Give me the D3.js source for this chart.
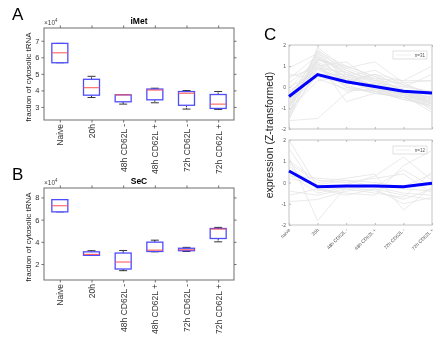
<!DOCTYPE html>
<html>
<head>
<meta charset="utf-8">
<script src="https://cdn.jsdelivr.net/npm/d3@7"></script>
<style>
  body { margin: 0; background: #fff; }
  svg { font-family: "Liberation Sans", Arial, sans-serif; will-change: transform; -webkit-font-smoothing: antialiased; }
</style>
</head>
<body>
<div class="container"></div>
<script>
// box plot categories
const cats = ["Naive", "20h", "48h CD62L -", "48h CD62L +", "72h CD62L -", "72h CD62L +"]
const catsC = ["naive", "20h", "48h CD62L -", "48h CD62L +", "72h CD62L -", "72h CD62L +"]

// iMet (x10^4)
const iMetLo  = [5.67, 3.57, 3.17, 3.25, 2.87, 2.85]
const iMetQ1  = [5.67, 3.71, 3.31, 3.43, 3.10, 2.91]
const iMetMed = [6.27, 4.16, 3.73, 4.02, 3.83, 3.17]
const iMetQ3  = [6.84, 4.67, 3.73, 4.08, 3.93, 3.75]
const iMetHi  = [6.84, 4.85, 3.73, 4.13, 3.99, 3.93]
const iMetTicks = [3, 4, 5, 6, 7]

// SeC (x10^4)
const secLo  = [6.70, 2.78, 1.40, 3.10, 3.13, 4.00]
const secQ1  = [6.70, 2.78, 1.55, 3.13, 3.20, 4.30]
const secMed = [7.25, 2.87, 2.18, 3.25, 3.28, 5.15]
const secQ3  = [7.80, 3.10, 2.99, 3.97, 3.42, 5.20]
const secHi  = [7.80, 3.20, 3.22, 4.15, 3.50, 5.30]
const secTicks = [2, 4, 6, 8]

// cluster profiles, Z-transformed
const topMean = [-0.45, 0.59, 0.25, 0.02, -0.2, -0.29]
const topLines = [
  [-1.6, 1.9, 0.8, 0.3, -0.3, -0.6],
  [-1.2, 1.7, 1.0, 0.5, -0.2, -0.5],
  [-0.9, 1.5, 0.6, 0.2, -0.4, -0.7],
  [-1.4, 1.3, 0.9, 1.2, 0.2, -0.4],
  [0.9, 1.6, 0.4, -0.1, -0.5, -0.9],
  [-0.5, 1.1, 0.5, 0.0, -0.3, -0.8],
  [-1.0, 1.4, 0.3, -0.2, -0.6, -0.8],
  [-0.3, 0.9, 0.7, 0.4, 0.3, 0.3],
  [-1.6, -1.5, -0.3, 0.2, 0.0, -0.2],
  [0.2, 1.2, -0.7, -0.3, -0.4, -0.6],
  [-0.8, 0.5, 0.2, 0.6, 0.3, 1.0],
  [-0.6, 1.0, 0.0, -0.2, -0.5, -1.0],
  [-0.2, 0.8, 0.4, 0.1, -0.3, -0.7],
  [-1.3, 1.8, 0.6, 0.0, -0.3, -0.5],
  [-0.4, 0.6, 0.1, -0.3, -0.5, -0.9],
  [0.4, 1.5, 0.2, 0.0, -0.2, -0.6],
  [-0.7, 1.0, 1.2, 0.3, -0.1, -0.4],
  [-1.1, 0.3, 0.5, 0.8, 0.1, -0.3],
  [-0.9, 1.3, 0.8, 0.2, -0.2, -1.1],
  [0.0, 0.7, -0.2, -0.1, -0.4, -0.8],
  [-0.5, 1.6, 0.9, 0.4, -0.2, -0.5],
  [-1.5, 0.9, 0.3, 0.6, 0.0, 0.6],
  [0.6, 0.4, -0.1, -0.2, -0.3, -0.7],
  [-0.8, 1.2, 0.5, 0.1, -0.4, -1.2],
  [-0.3, 1.1, 0.3, -0.1, -0.3, -0.6],
  [-1.2, 0.6, 0.6, 0.3, 0.2, 0.3],
  [-0.1, 1.4, 0.7, 0.0, -0.4, -0.8],
  [-0.7, 1.7, 0.4, -0.2, -0.6, -0.9],
  [0.5, 0.9, 0.0, -0.3, -0.5, -0.7],
  [-1.0, 1.0, 0.2, 0.0, -0.2, -0.5],
  [-0.6, 1.3, 1.0, 0.5, 0.1, -0.3]
]
const botMean = [0.54, -0.2, -0.17, -0.17, -0.2, -0.04]
const botLines = [
  [2.0, -0.2, -0.3, -0.2, -0.5, -0.6],
  [1.6, -0.4, -0.1, 0.3, 1.2, 0.1],
  [-0.9, -0.8, -0.4, -0.3, -0.6, -0.8],
  [1.2, -1.8, -0.2, -0.1, -0.3, -0.4],
  [0.9, 0.0, 0.2, 0.4, -1.3, -0.2],
  [-0.6, -0.3, -0.5, -0.6, 0.8, 1.5],
  [0.4, -0.5, -0.2, -0.4, -0.8, -0.3],
  [1.0, 0.1, 0.0, 0.2, 0.4, -0.5],
  [-0.4, -0.6, -0.3, -0.5, -0.7, 0.5],
  [0.3, 0.2, 0.1, -0.2, 0.6, -0.2],
  [0.8, -0.3, -0.6, -0.3, -1.0, -0.7],
  [0.2, -0.1, 0.1, 0.0, -0.2, 0.4]
]
const zTicks = [-2, -1, 0, 1, 2]

const w = 448
const h = 339

const svg = d3.select(".container")
  .append("svg")
  .attr("width", w)
  .attr("height", h)

const plain = d => String(d)

function boxPanel(top, bottom, yDomain, ticks, lo, q1, med, q3, hi, title, letter) {
  const left = 44, right = 234
  const x = d3.scaleLinear().domain([0.5, 6.5]).range([left, right])
  const y = d3.scaleLinear().domain(yDomain).range([bottom, top])
  const g = svg.append("g")

  // frame
  g.append("rect")
    .attr("x", left).attr("y", top)
    .attr("width", right - left).attr("height", bottom - top)
    .attr("fill", "none").attr("stroke", "#6e6e6e").attr("stroke-width", 1)

  // ticks point outward, MATLAB style
  const idx = d3.range(1, 7)
  const ya = g.append("g").attr("transform", `translate(${left},0)`)
    .call(d3.axisLeft(y).tickValues(ticks).tickSize(2.5).tickPadding(2).tickFormat(plain))
    .call(a => a.select(".domain").remove())
  ya.selectAll("text").attr("font-size", 7.5)
  g.append("g").attr("transform", `translate(${right},0)`)
    .call(d3.axisRight(y).tickValues(ticks).tickSize(2.5).tickFormat(""))
    .call(a => a.select(".domain").remove())
  g.append("g").attr("transform", `translate(0,${top})`)
    .call(d3.axisTop(x).tickValues(idx).tickSize(2.5).tickFormat(""))
    .call(a => a.select(".domain").remove())
  const xb = g.append("g").attr("transform", `translate(0,${bottom})`)
    .call(d3.axisBottom(x).tickValues(idx).tickSize(2.5).tickFormat(i => cats[i - 1]))
    .call(a => a.select(".domain").remove())
  xb.selectAll("text")
    .attr("transform", "rotate(-90)")
    .attr("text-anchor", "end")
    .attr("x", -4).attr("y", 0).attr("dy", "0.35em")
    .attr("font-size", 8.5)
  g.selectAll(".tick line").attr("stroke", "#6e6e6e")
  g.selectAll(".tick text").attr("fill", "#333")

  // boxes
  const bw = 16, cw = 8
  idx.forEach((c, i) => {
    const cx = x(c)
    g.append("line").attr("x1", cx).attr("x2", cx).attr("y1", y(q3[i])).attr("y2", y(hi[i]))
      .attr("stroke", "#000").attr("stroke-dasharray", "2,1").attr("stroke-width", 0.8)
    g.append("line").attr("x1", cx).attr("x2", cx).attr("y1", y(q1[i])).attr("y2", y(lo[i]))
      .attr("stroke", "#000").attr("stroke-dasharray", "2,1").attr("stroke-width", 0.8)
    g.append("line").attr("x1", cx - cw / 2).attr("x2", cx + cw / 2).attr("y1", y(hi[i])).attr("y2", y(hi[i]))
      .attr("stroke", "#000").attr("stroke-width", 0.8)
    g.append("line").attr("x1", cx - cw / 2).attr("x2", cx + cw / 2).attr("y1", y(lo[i])).attr("y2", y(lo[i]))
      .attr("stroke", "#000").attr("stroke-width", 0.8)
    g.append("rect").attr("x", cx - bw / 2).attr("y", y(q3[i]))
      .attr("width", bw).attr("height", Math.max(0.5, y(q1[i]) - y(q3[i])))
      .attr("fill", "#fff").attr("stroke", "#4d4dff").attr("stroke-width", 1.3)
    g.append("line").attr("x1", cx - bw / 2).attr("x2", cx + bw / 2).attr("y1", y(med[i])).attr("y2", y(med[i]))
      .attr("stroke", "#ff5050").attr("stroke-width", 1)
  })

  g.append("text").attr("x", (left + right) / 2).attr("y", top - 4)
    .attr("text-anchor", "middle").attr("font-size", 8.5).attr("font-weight", "bold").text(title)
  const ex = g.append("text").attr("x", left).attr("y", top - 3.5).attr("font-size", 6.5).attr("fill", "#444")
  ex.append("tspan").text("\u00d710")
  ex.append("tspan").attr("dy", -3).attr("font-size", 4.5).text("4")
  g.append("text").attr("transform", `translate(31,${(top + bottom) / 2 + 3}) rotate(-90)`)
    .attr("text-anchor", "middle").attr("font-size", 8).attr("fill", "#222")
    .text("fraction of cytosolic tRNA")
  g.append("text").attr("x", 12).attr("y", top - 8).attr("font-size", 17).text(letter)
}

boxPanel(28, 120, [2.21, 7.77], iMetTicks, iMetLo, iMetQ1, iMetMed, iMetQ3, iMetHi, "iMet", "A")
boxPanel(188, 280, [0.56, 8.85], secTicks, secLo, secQ1, secMed, secQ3, secHi, "SeC", "B")

function linePanel(top, bottom, lines, mean, n, showX) {
  const left = 289, right = 432
  const x = d3.scaleLinear().domain([0, 5]).range([left, right])
  const y = d3.scaleLinear().domain([-2, 2]).range([bottom, top])
  const g = svg.append("g")
  g.append("rect").attr("x", left).attr("y", top)
    .attr("width", right - left).attr("height", bottom - top)
    .attr("fill", "#fff").attr("stroke", "#c4c4c4").attr("stroke-width", 1)

  const idx = d3.range(6)
  const ya = g.append("g").attr("transform", `translate(${left},0)`)
    .call(d3.axisLeft(y).tickValues(zTicks).tickSize(-2).tickPadding(3).tickFormat(plain))
    .call(a => a.select(".domain").remove())
  ya.selectAll("text").attr("font-size", 5)
  g.append("g").attr("transform", `translate(0,${top})`)
    .call(d3.axisTop(x).tickValues(idx).tickSize(-2).tickFormat(""))
    .call(a => a.select(".domain").remove())
  const xb = g.append("g").attr("transform", `translate(0,${bottom})`)
    .call(d3.axisBottom(x).tickValues(idx).tickSize(-2).tickFormat(i => showX ? catsC[i] : ""))
    .call(a => a.select(".domain").remove())
  xb.selectAll("text")
    .attr("transform", "rotate(-45)")
    .attr("text-anchor", "end")
    .attr("x", -3).attr("y", 3).attr("dy", "0.35em")
    .attr("font-size", 4.8)
  g.selectAll(".tick line").attr("stroke", "#bbb")
  g.selectAll(".tick text").attr("fill", "#555")

  const line = d3.line().x((d, i) => x(i)).y(d => y(d))
  g.selectAll(".prof").data(lines).enter().append("path")
    .attr("d", line).attr("fill", "none").attr("stroke", "#e4e4e4").attr("stroke-width", 0.8)
  g.append("path").datum(mean).attr("d", line)
    .attr("fill", "none").attr("stroke", "#0000ff").attr("stroke-width", 3)

  // legend
  g.append("rect").attr("x", 393).attr("y", top + 6).attr("width", 34).attr("height", 8)
    .attr("fill", "#fff").attr("stroke", "#ccc").attr("stroke-width", 0.6)
  g.append("line").attr("x1", 396).attr("x2", 411).attr("y1", top + 10).attr("y2", top + 10)
    .attr("stroke", "#e4e4e4").attr("stroke-width", 0.6)
  g.append("text").attr("x", 425).attr("y", top + 11.7).attr("text-anchor", "end")
    .attr("font-size", 4.5).attr("fill", "#555").text("n=" + n)
}

linePanel(45, 129, topLines, topMean, 31, false)
linePanel(140, 225, botLines, botMean, 12, true)

svg.append("text").attr("transform", "translate(273,135) rotate(-90)")
  .attr("text-anchor", "middle").attr("font-size", 10.5).attr("fill", "#222")
  .text("expression (Z-transformed)")
svg.append("text").attr("x", 264).attr("y", 40).attr("font-size", 17).text("C")
</script>
</body>
</html>
